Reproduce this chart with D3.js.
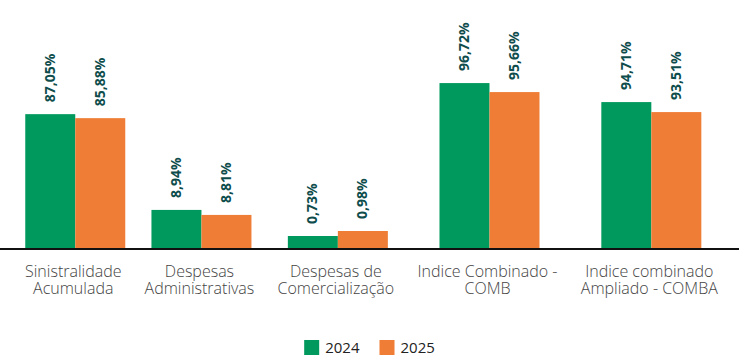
<!DOCTYPE html>
<html>
<head>
<meta charset="utf-8">
<script src="https://cdn.jsdelivr.net/npm/d3@7"></script>
<style>
  html, body { margin: 0; padding: 0; background: #fff; }
  svg { display: block; }
</style>
</head>
<body>
<svg id="chart" width="739" height="358"></svg>
<script>
// ---- data ----
const categories = [
  "Sinistralidade Acumulada",
  "Despesas Administrativas",
  "Despesas de Comercialização",
  "Indice Combinado - COMB",
  "Indice combinado Ampliado - COMBA"
];
const categoryLines = [
  ["Sinistralidade", "Acumulada"],
  ["Despesas", "Administrativas"],
  ["Despesas de", "Comercialização"],
  ["Indice Combinado -", "COMB"],
  ["Indice combinado", "Ampliado - COMBA"]
];
const series = ["2024", "2025"];
const values2024 = [87.05, 8.94, 0.73, 96.72, 94.71];
const values2025 = [85.88, 8.81, 0.98, 95.66, 93.51];
// each category is drawn on its own value axis (as in the original)
const axisMin = [47.9, 7.95, 0.13, 77.3, 77.2];
const axisMax = [106.4, 13.15, 10.13, 100.85, 101.2];

// ---- layout / style ----
const W = 739, H = 358;
const baseline = 248, plotTop = 48;
const colors = { "2024": "#00995D", "2025": "#EF7D35" };
const seriesValues = { "2024": values2024, "2025": values2025 };

const locale = d3.formatLocale({ decimal: ",", thousands: ".", grouping: [3], currency: ["R$", ""] });
const fmt = v => locale.format(".2f")(v) + "%";

const svg = d3.select("#chart");

// category labels first (their widths drive the band layout)
const catG = svg.append("g");
const catGroups = catG.selectAll("g.cat")
  .data(categories)
  .join("g")
  .attr("class", "cat");

catGroups.each(function(d, i) {
  const g = d3.select(this);
  categoryLines[i].forEach((line, k) => {
    g.append("text")
      .attr("text-anchor", "middle")
      .attr("font-family", "'Open Sans', 'Noto Sans', sans-serif")
      .attr("font-weight", 300)
      .attr("font-size", 16)
      .attr("fill", "#444")
      .attr("y", 277 + k * 17)
      .text(line);
  });
});

const labelWidths = [];
catGroups.each(function() {
  let w = 0;
  d3.select(this).selectAll("text").each(function() { w = Math.max(w, this.getComputedTextLength()); });
  labelWidths.push(w);
});
const pad = 22;
const starts = [];
let acc = 0;
labelWidths.forEach(w => { starts.push(acc); acc += w + pad; });
const xUnit = d3.scaleLinear().domain([0, acc]).range([15.5, 731.5]);
const centerOf = i => xUnit(starts[i] + (labelWidths[i] + pad) / 2);
const xCenter = d3.scaleOrdinal().domain(categories).range(categories.map((c, i) => centerOf(i)));

catGroups.each(function(d) {
  d3.select(this).selectAll("text").attr("x", xCenter(d) - 2);
});

const sub = d3.scaleBand().domain(series).range([-50, 50]).padding(0);
const yScales = categories.map((c, i) =>
  d3.scaleLinear().domain([axisMin[i], axisMax[i]]).range([baseline, plotTop]));

const barData = [];
categories.forEach((c, i) => {
  series.forEach(s => barData.push({ cat: c, i, s, v: seriesValues[s][i] }));
});

svg.append("g").selectAll("rect")
  .data(barData)
  .join("rect")
  .attr("x", d => xCenter(d.cat) + sub(d.s))
  .attr("width", sub.bandwidth())
  .attr("y", d => yScales[d.i](d.v))
  .attr("height", d => baseline - yScales[d.i](d.v))
  .attr("fill", d => colors[d.s]);

svg.append("g").selectAll("text")
  .data(barData)
  .join("text")
  .attr("transform", d => `translate(${xCenter(d.cat) + sub(d.s) + sub.bandwidth() / 2},${yScales[d.i](d.v) - 12}) rotate(-90)`)
  .attr("dy", "0.32em")
  .attr("text-anchor", "start")
  .attr("font-family", "'Open Sans', 'Noto Sans', sans-serif")
  .attr("font-weight", 700)
  .attr("font-size", 14)
  .attr("fill", "#0E4D4C")
  .text(d => fmt(d.v));

// baseline
svg.append("line")
  .attr("x1", 0).attr("x2", W)
  .attr("y1", baseline + 1).attr("y2", baseline + 1)
  .attr("stroke", "#111").attr("stroke-width", 2);

// legend
const legG = svg.append("g");
const items = legG.selectAll("g").data(series).join("g");
items.append("rect").attr("width", 15).attr("height", 15).attr("y", 340).attr("fill", d => colors[d]);
items.append("text")
  .attr("x", 21).attr("y", 353)
  .attr("font-family", "'Open Sans', 'Noto Sans', sans-serif")
  .attr("font-size", 15)
  .attr("fill", "#222")
  .text(d => d);
let lx = 0;
const positions = [];
items.each(function() {
  const tw = d3.select(this).select("text").node().getComputedTextLength();
  positions.push(lx);
  lx += 21 + tw + 20;
});
const legendWidth = lx - 20;
const legStart = W / 2 - legendWidth / 2;
items.attr("transform", (d, i) => `translate(${legStart + positions[i]},0)`);
</script>
</body>
</html>
